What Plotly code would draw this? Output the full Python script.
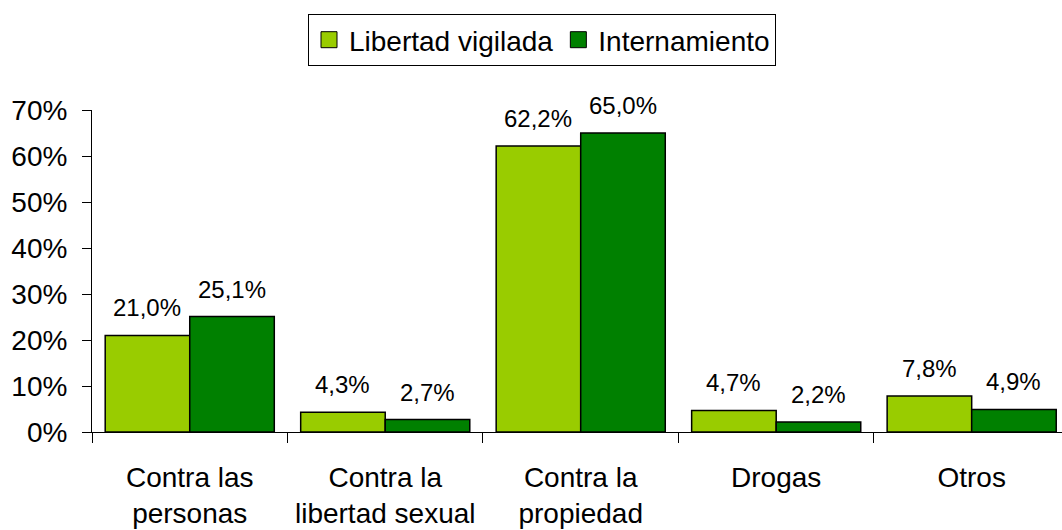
import plotly.graph_objects as go

categories = ["Contra las<br>personas", "Contra la<br>libertad sexual", "Contra la<br>propiedad", "Drogas", "Otros"]
series_names = ["Libertad vigilada", "Internamiento"]
libertad = [21.0, 4.3, 62.2, 4.7, 7.8]
internamiento = [25.1, 2.7, 65.0, 2.2, 4.9]
colors = ["#99CC00", "#008000"]
y_ticks = [0, 10, 20, 30, 40, 50, 60, 70]

FONT = "Liberation Sans, Arial, sans-serif"
W, H = 1062, 530
ML, MR, MT, MB = 92, 0, 110, 98
x_range = [-0.5, 4.462]
bargap = 0.135

px_per_cat = (W - ML - MR) / (x_range[1] - x_range[0])
bar_px = px_per_cat * (1 - bargap) / 2

fig = go.Figure()
for name, vals, col in zip(series_names, [libertad, internamiento], colors):
    fig.add_trace(go.Bar(
        x=categories, y=vals, name=name, showlegend=False,
        marker=dict(color=col, line=dict(color="#000000", width=1.5)),
        hoverinfo="skip",
    ))
    # legend entry with larger square swatch
    fig.add_trace(go.Scatter(
        x=[None], y=[None], mode="markers", name=name,
        marker=dict(symbol="square", size=16, color=col, line=dict(color="#000000", width=1)),
    ))

for i, vals in enumerate([libertad, internamiento]):
    shift = (i - 0.5) * bar_px
    for c, v in zip(categories, vals):
        fig.add_annotation(
            x=c, y=v, text=f"{v:.1f}%".replace(".", ","),
            showarrow=False, xshift=shift, yshift=12, yanchor="bottom",
            font=dict(family=FONT, size=24, color="#000000"),
        )

fig.update_layout(
    width=W, height=H,
    margin=dict(l=ML, r=MR, t=MT, b=MB),
    paper_bgcolor="white", plot_bgcolor="white",
    barmode="group", bargap=bargap, bargroupgap=0,
    font=dict(family=FONT, size=28, color="#000000"),
    legend=dict(
        orientation="h", xref="container", yref="container",
        x=542 / W, xanchor="center", y=1 - 14 / H, yanchor="top",
        bordercolor="#000000", borderwidth=1,
        font=dict(family=FONT, size=28, color="#000000"),
        itemsizing="trace", itemwidth=30,
    ),
    xaxis=dict(
        range=x_range, showgrid=False, showline=True, linecolor="#000000", linewidth=1,
        ticks="outside", tickson="boundaries", ticklen=10, tickcolor="#000000",
        ticklabelstandoff=20, tickfont=dict(family=FONT, size=28, color="#000000"),
        fixedrange=True,
    ),
    yaxis=dict(
        range=[0, 70], tickvals=y_ticks, ticktext=[f"{t}%" for t in y_ticks],
        showgrid=False, showline=True, linecolor="#000000", linewidth=1,
        ticks="outside", ticklen=9, tickcolor="#000000", zeroline=False,
        ticklabelstandoff=9, tickfont=dict(family=FONT, size=28, color="#000000"),
        fixedrange=True,
    ),
)

fig.write_html(
    "out.html",
    config={"displayModeBar": False},
    post_script="document.body.style.margin='0';document.body.style.overflow='hidden';",
)
